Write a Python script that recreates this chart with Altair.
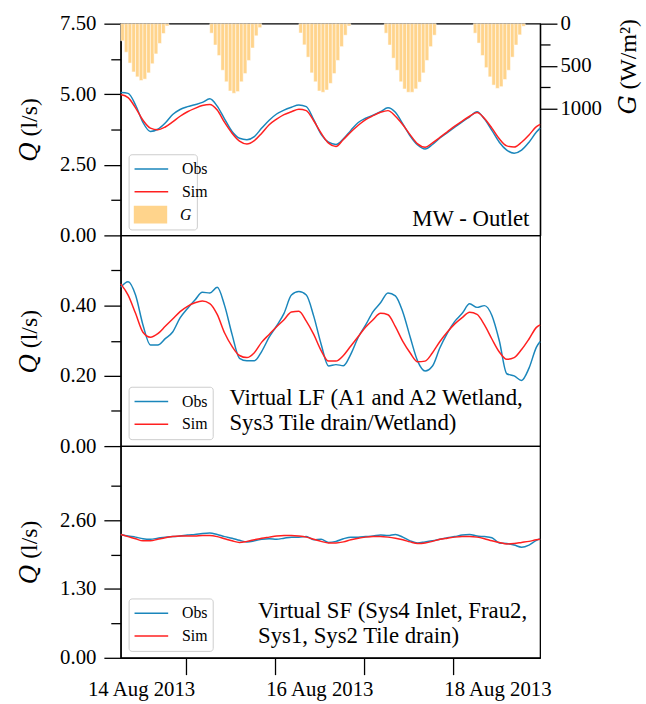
import altair as alt
import pandas as pd

FONT = "Liberation Serif"
TFONT = "Liberation Serif, DejaVu Serif, serif"
BLUE = "#1a86bb"
RED = "#ff2020"
ORANGE = "#ffd48c"
CLEAR = "rgba(0,0,0,0)"

# time axis (hours from start of record)
hours = list(range(0, 113, 2)) + [113]

q_mw_obs = [5.06, 5.03, 4.62, 4.00, 3.68, 3.76, 3.98, 4.28, 4.46, 4.56, 4.63, 4.71, 4.84, 4.58, 4.12,
            3.68, 3.44, 3.39, 3.50, 3.80, 4.08, 4.30, 4.44, 4.54, 4.62, 4.56, 4.10, 3.58, 3.30, 3.22,
            3.42, 3.72, 4.00, 4.15, 4.26, 4.38, 4.52, 4.36, 3.95, 3.52, 3.20, 3.06, 3.22, 3.45, 3.64,
            3.83, 4.02, 4.20, 4.38, 4.12, 3.72, 3.30, 3.02, 2.91, 3.02, 3.30, 3.66, 3.80]
q_mw_sim = [4.99, 4.88, 4.52, 4.08, 3.80, 3.74, 3.84, 4.02, 4.22, 4.38, 4.50, 4.60, 4.64, 4.44, 4.00,
            3.62, 3.34, 3.24, 3.36, 3.62, 3.92, 4.12, 4.28, 4.38, 4.47, 4.42, 4.06, 3.62, 3.27, 3.15,
            3.40, 3.66, 3.90, 4.10, 4.24, 4.36, 4.42, 4.22, 3.92, 3.56, 3.24, 3.12, 3.28, 3.47, 3.67,
            3.87, 4.05, 4.22, 4.35, 4.14, 3.80, 3.42, 3.17, 3.13, 3.30, 3.56, 3.85, 3.93]
q_lf_obs = [0.452, 0.468, 0.430, 0.345, 0.288, 0.288, 0.306, 0.325, 0.365, 0.392, 0.416, 0.438, 0.436,
            0.452, 0.400, 0.318, 0.250, 0.243, 0.243, 0.270, 0.310, 0.342, 0.378, 0.430, 0.440, 0.430,
            0.370, 0.290, 0.228, 0.232, 0.229, 0.262, 0.310, 0.345, 0.383, 0.408, 0.436, 0.428, 0.382,
            0.310, 0.242, 0.214, 0.228, 0.280, 0.322, 0.355, 0.378, 0.405, 0.395, 0.400, 0.372, 0.300,
            0.206, 0.200, 0.187, 0.222, 0.282, 0.298]
q_lf_sim = [0.462, 0.430, 0.378, 0.324, 0.310, 0.320, 0.341, 0.362, 0.383, 0.398, 0.408, 0.413, 0.406,
            0.375, 0.322, 0.284, 0.258, 0.252, 0.266, 0.296, 0.318, 0.340, 0.360, 0.382, 0.384, 0.356,
            0.318, 0.272, 0.242, 0.242, 0.258, 0.285, 0.312, 0.339, 0.360, 0.378, 0.374, 0.340, 0.298,
            0.265, 0.240, 0.242, 0.266, 0.298, 0.325, 0.348, 0.366, 0.381, 0.375, 0.345, 0.305, 0.268,
            0.247, 0.252, 0.275, 0.305, 0.338, 0.345]
q_sf_obs = [2.33, 2.30, 2.28, 2.25, 2.24, 2.26, 2.28, 2.29, 2.30, 2.32, 2.33, 2.35, 2.36, 2.33, 2.29,
            2.26, 2.22, 2.19, 2.21, 2.24, 2.25, 2.24, 2.26, 2.28, 2.28, 2.29, 2.23, 2.24, 2.18, 2.20,
            2.25, 2.28, 2.28, 2.29, 2.30, 2.32, 2.31, 2.33, 2.28, 2.21, 2.17, 2.19, 2.21, 2.24, 2.27,
            2.29, 2.32, 2.33, 2.30, 2.29, 2.27, 2.17, 2.16, 2.13, 2.09, 2.13, 2.22, 2.25]
q_sf_sim = [2.33, 2.29, 2.25, 2.21, 2.21, 2.24, 2.27, 2.29, 2.30, 2.30, 2.30, 2.31, 2.31, 2.29, 2.25,
            2.21, 2.18, 2.20, 2.23, 2.26, 2.28, 2.30, 2.31, 2.31, 2.30, 2.28, 2.24, 2.20, 2.17, 2.17,
            2.19, 2.23, 2.26, 2.28, 2.29, 2.29, 2.28, 2.26, 2.23, 2.19, 2.16, 2.17, 2.20, 2.24, 2.26,
            2.28, 2.29, 2.29, 2.28, 2.25, 2.21, 2.18, 2.15, 2.16, 2.18, 2.20, 2.23, 2.24]

# hourly global radiation G (W/m2), daylight hours only
g_hours = (list(range(0, 13)) + list(range(24, 38)) + list(range(48, 62))
           + list(range(71, 85)) + list(range(95, 109)))
g_values = [202, 337, 465, 570, 628, 671, 655, 581, 473, 357, 233, 116, 27,
            112, 252, 376, 550, 686, 795, 822, 802, 686, 589, 434, 287, 143, 47,
            110, 250, 395, 581, 686, 795, 810, 783, 705, 589, 434, 271, 136, 27,
            112, 252, 407, 550, 686, 771, 810, 810, 770, 690, 581, 434, 271, 136,
            112, 229, 376, 519, 628, 725, 764, 744, 659, 550, 395, 252, 132, 30]

# x-axis: day ticks and date labels (hours)
day_ticks = [17.5, 41.5, 65.5, 89.5]
date_pos = [5.5, 53.5, 101.5]
date_labels = ["14 Aug 2013", "16 Aug 2013", "18 Aug 2013"]

# panel annotations (hours, Q)
ann_mw = {"t": [110.1], "q": [0.35], "label": ["MW - Outlet"]}
ann_lf = {"t": [29.3, 29.3], "q": [0.116, 0.046],
          "label": ["Virtual LF (A1 and A2 Wetland,", "Sys3 Tile drain/Wetland)"]}
ann_sf = {"t": [37.0, 37.0], "q": [0.753, 0.286],
          "label": ["Virtual SF (Sys4 Inlet, Frau2,", "Sys1, Sys2 Tile drain)"]}

W = 424
XS = alt.Scale(domain=[0, 113], nice=False, zero=False)
RECT = "M-1,-0.53H1V0.53H-1Z"


def series_df(obs, sim):
    return pd.DataFrame({"t": hours * 2, "q": obs + sim,
                         "series": ["Obs"] * len(hours) + ["Sim"] * len(hours)})


def arr(vals):
    return "[" + ",".join(repr(v) for v in vals) + "]"


def y_axis(values, labeled):
    cond = f"indexof({arr(labeled)}, datum.value) >= 0"
    return alt.Axis(
        values=values,
        labelExpr=f"{cond} ? format(datum.value, '.2f') : ''",
        tickSize={"condition": {"test": cond, "value": 17}, "value": 10},
        labelPadding=8, labelOverlap=False, labelFlush=False,
        labelFont=FONT, labelFontSize=21, titleFont=TFONT, titleFontSize=24,
        title="𝑄 (l/s)", titleAngle=270, titleBaseline="alphabetic", titleAlign="center",
        titleX=-85, titleY=107, grid=False,
    )


LEG = dict(orient="none", legendX=8, title=None, labelFont=FONT, labelFontSize=16,
           symbolSize=1156, clipHeight=20, rowPadding=3, labelOffset=13, padding=5,
           cornerRadius=3, labelColor="black")


def line_legend(y, boxed=True):
    kw = dict(LEG, legendY=y, symbolType="stroke", symbolStrokeWidth=1.5, zindex=2)
    if boxed:
        kw.update(strokeColor="#cccccc", fillColor="white")
    return alt.Legend(**kw)


def panel(obs, sim, ydom, yvals, ylab, ann, ann_align, leg, height, xaxis=None, extra=None):
    ax = y_axis(yvals, ylab)
    ys = alt.Scale(domain=ydom, nice=False, zero=False)
    cscale = alt.Scale(domain=["Obs", "Sim"], range=[BLUE, RED])
    lines = alt.Chart(series_df(obs, sim)).mark_line(strokeWidth=1.5, interpolate="monotone").encode(
        x=alt.X("t:Q", scale=XS, axis=xaxis),
        y=alt.Y("q:Q", scale=ys, axis=ax),
        color=alt.Color("series:N", scale=cscale, legend=leg),
    )
    text = alt.Chart(pd.DataFrame(ann)).mark_text(
        align=ann_align, baseline="alphabetic", font=FONT, fontSize=23, color="black"
    ).encode(
        x=alt.X("t:Q", scale=XS, axis=xaxis),
        y=alt.Y("q:Q", scale=ys, axis=ax),
        text="label:N",
    )
    inner = alt.layer(lines, text)
    if extra is not None:
        return alt.layer(extra, inner).resolve_scale(y="independent").properties(
            width=W, height=height)
    return inner.properties(width=W, height=height)


gdf = pd.DataFrame({"h0": g_hours, "h1": [h + 1 for h in g_hours], "g": g_values,
                    "series": ["G"] * len(g_hours)})
gcond = "indexof([0,500,1000], datum.value) >= 0"
g_legend = alt.Legend(**dict(
    LEG, legendY=132, symbolType=RECT, symbolStrokeWidth=0, zindex=1,
    labelExpr="datum.label == 'G' ? 'G' : '\u00a0\u00a0\u00a0\u00a0\u00a0\u00a0'",
    labelFontStyle="italic", strokeColor="#cccccc", fillColor="white"))
g_bars = alt.Chart(gdf).mark_bar(stroke="white", strokeWidth=0.5).encode(
    x=alt.X("h0:Q", scale=XS, axis=None),
    x2="h1:Q",
    y=alt.Y("g:Q", scale=alt.Scale(domain=[0, 2500], reverse=True, nice=False, zero=False),
            axis=alt.Axis(orient="right", values=[0, 250, 500, 750, 1000],
                          labelExpr=f"{gcond} ? format(datum.value, 'd') : ''",
                          tickSize={"condition": {"test": gcond, "value": 17}, "value": 10},
                          labelPadding=3, labelOverlap=False, labelFlush=False,
                          labelFont=FONT, labelFontSize=21, titleFont=TFONT, titleFontSize=24,
                          title="𝐺 (W/m²)", titleAngle=270, titleBaseline="alphabetic",
                          titleAlign="center", titleX=96, titleY=43, grid=False)),
    y2=alt.datum(0),
    fill=alt.Fill("series:N", scale=alt.Scale(domain=["Obs", "Sim", "G"],
                                              range=[CLEAR, CLEAR, ORANGE]),
                  legend=g_legend),
)

xcond = f"indexof({arr(day_ticks)}, datum.value) >= 0"
lab_expr = "".join(f"datum.value == {p} ? '{l}' : " for p, l in zip(date_pos, date_labels)) + "''"
bottom_xaxis = alt.Axis(
    values=sorted(day_ticks + date_pos), labelExpr=lab_expr,
    tickSize={"condition": {"test": xcond, "value": 17}, "value": 0},
    labelPadding=21, labelOverlap=False, labelFlush=False, labelBound=False,
    labelFont=FONT, labelFontSize=21,
    title=None, grid=False,
)

top = panel(q_mw_obs, q_mw_sim, [0, 7.5], [0, 1.25, 2.5, 3.75, 5, 6.25, 7.5], [0, 2.5, 5, 7.5],
            ann_mw, "right", line_legend(132, boxed=False), 214, extra=g_bars)
mid = panel(q_lf_obs, q_lf_sim, [0, 0.6], [0, 0.1, 0.2, 0.3, 0.4, 0.5], [0, 0.2, 0.4],
            ann_lf, "left", line_legend(153), 213)
bot = panel(q_sf_obs, q_sf_sim, [0, 4], [0, 0.65, 1.3, 1.95, 2.6, 3.25], [0, 1.3, 2.6],
            ann_sf, "left", line_legend(154), 214, xaxis=bottom_xaxis)

chart = alt.vconcat(top, mid, bot, spacing=0, bounds="flush").resolve_scale(
    color="independent", fill="independent"
).properties(
    padding={"left": 17, "top": 8, "right": 5, "bottom": 5}
).configure_view(
    stroke="black", strokeWidth=1.3
).configure_axis(
    domainColor="black", tickColor="black", labelColor="black", titleColor="black",
    labelFont=FONT, titleFont=TFONT, labelFontSize=21, titleFontSize=24,
    titleFontWeight="normal", tickWidth=1.3, domainWidth=1.3,
)

chart.save("out.html", embed_options={"renderer": "svg", "actions": False})
